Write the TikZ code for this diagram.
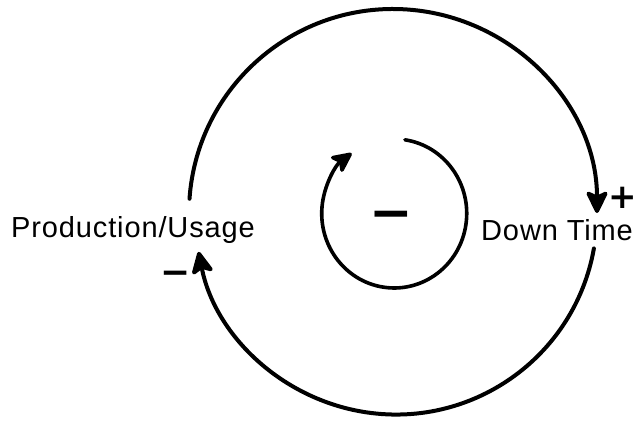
\documentclass[tikz,border=0pt]{standalone}
\usepackage{fontspec}
\setmainfont{Liberation Sans}
\newfontfamily\symfont{DejaVu Sans}
\usetikzlibrary{arrows.meta,calc}
\begin{document}
\begin{tikzpicture}[x=1pt,y=1pt,
  loopline/.style={line width=4pt,line cap=round},
  innerline/.style={line width=3.6pt,line cap=round},
  headtip/.style={-{Stealth[length=26pt,width=25pt,inset=6pt,round]}},
  label/.style={inner sep=0pt,font=\fontsize{29}{30}\selectfont\addfontfeature{LetterSpace=3}},
  sign/.style={inner sep=0pt,font=\symfont\bfseries\fontsize{#1}{#1}\selectfont}]
\useasboundingbox[fill=white] (0,0) rectangle (639,420);
% centres
\coordinate (C) at (393,207);
\coordinate (I) at (394,207);
% variables
\node[label,anchor=base west] (prod) at (11,182) {Production/Usage};
\node[label,anchor=base west] (down) at (481,179) {Down Time};
% arc end points
\coordinate (t1) at ($(C)+(176:204)$);
\coordinate (b1) at ($(C)+(-10:204)$);
\coordinate (i1) at ($(I)+(81.5:74)$);
% outer loop: Production/Usage -> Down Time (top)
\draw[loopline,headtip] (t1) arc[start angle=176,end angle=0,radius=204];
% outer loop: Down Time -> Production/Usage (bottom)
\draw[loopline,headtip] (b1) arc[start angle=-10,end angle=-169,radius=201];
% inner loop
\draw[innerline,-{Stealth[length=24pt,width=23pt,inset=6pt,round]}] (i1) arc[start angle=81.5,end angle=-234,x radius=72.5,y radius=74.5];
% signs
\node[sign=34] (plus) at (623,222) {+};
\node[sign=36] (mleft) at (176,142) {−};
\node[sign=52] (mmid) at (391,199) {−};
\end{tikzpicture}
\end{document}
